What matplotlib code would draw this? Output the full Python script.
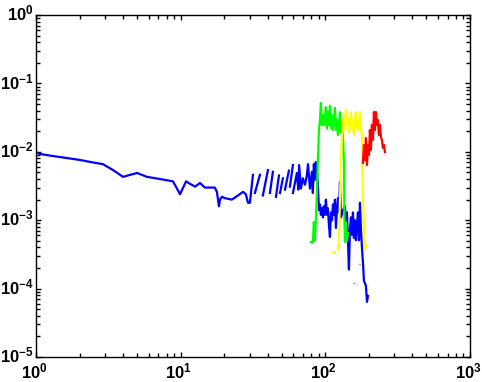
import numpy as np
import matplotlib
matplotlib.use("Agg")
import matplotlib.pyplot as plt
from matplotlib.ticker import LogLocator, NullFormatter
from matplotlib.transforms import ScaledTranslation

nan = np.nan

# ---- data ----
blue_x = [1.0, 1.066, 1.25, 1.64, 2.01, 2.56, 2.9, 3.41, 4.0, 4.47, 5.0, 5.85, 7.19, 8.85,
          9.9, 10.9, 11.6, 12.6, 13.6, 14.7, 15.9, 17.2, 17.8, 18.4, 18.7, 19.3, 20.2, 22.6,
          24.9, 27.0, 28.2, 29.2,
          30.1, 31.6, nan, 32.6, 35.3, nan, 37.0, 40.1, nan, 41.4, 43.4, nan, 45.6, 47.8, nan,
          48.6, 50.9, nan, 52.6, 56.0, nan, 56.9, 59.7, nan, 59.7, 63.6,
          65.0, 65.9, 67.8, 69.9, 72.3, 74.4, 75.9, 78.3, 80.8, 82.0, 83.3, 84.7, 86.0, 87.4,
          88.8, 90.3, 91.8, 93.2, 94.7, 96.3, 97.8, 99.3, 100.9, 102.6, 104.2, 105.9, 107.6,
          109.4, 111.1, 112.9, 114.7, 116.5, 118.4, 120.3, 122.2, 124.2, 126.2, 128.2, 132.4,
          136.6, 138.8, 141.0, 143.3, 145.6, 147.9, 150.3, 152.7, 155.2, 157.7, 160.2, 162.8,
          165.4, 168.1, 170.8, 173.5, 176.3, 179.1, 182.0, 184.9, 190.8, 194.0, 197.0]
blue_y = [0.0099, 0.0093, 0.0088, 0.0081, 0.0076, 0.0069, 0.0066, 0.0054, 0.0043, 0.0046,
          0.0049, 0.0043, 0.0040, 0.0037, 0.0024, 0.0037, 0.0034, 0.0031, 0.0035, 0.0030,
          0.0030, 0.0030, 0.0026, 0.0016, 0.0020, 0.0022, 0.0021, 0.0020, 0.0023, 0.0026,
          0.0024, 0.0018,
          0.0018, 0.0046, nan, 0.0025, 0.0046, nan, 0.0023, 0.0054, nan, 0.0025, 0.0051, nan,
          0.0022, 0.0045, nan, 0.0025, 0.0041, nan, 0.0028, 0.0053, nan, 0.0031, 0.0064, nan,
          0.0025, 0.0049,
          0.0028, 0.0064, 0.0029, 0.0041, 0.0033, 0.0044, 0.0066, 0.0029, 0.0051, 0.0025,
          0.0066, 0.0039, 0.0071, 0.0051, 0.0033, 0.0014, 0.0017, 0.0012, 0.0015, 0.0011,
          0.0016, 0.0012, 0.0020, 0.0012, 0.0015, 0.00085, 0.00057, 0.0013, 0.0010, 0.0017,
          0.0012, 0.0020, 0.00077, 0.0014, 0.0021, 0.0013, 0.0036, 0.0011, 0.0014, 0.0016,
          0.00085, 0.0013, 0.00051, 0.00019, 0.00072, 0.0011, 0.00061, 0.0013, 0.00055,
          0.0010, 0.00051, 0.00085, 0.0013, 0.00051, 0.0018, 0.00072, 0.0004, 0.00024,
          0.00013, 0.00011, 0.000064, 0.000078]

green_x = [79.5, 80.2, nan, 82.0, 83.3, 84.7, 86.0, 87.4, 88.8, 90.3, 91.8, 93.2, 94.7, 96.3,
           97.8, 99.3, 100.9, 102.6, 104.2, 105.9, 107.6, 109.4, 111.1, 112.9, 114.7, 116.5,
           118.4, 120.3, 122.2, 124.2, 126.2, 128.2, 130.3, 132.4, 134.5, 135.5, 136.6, 138.8,
           141.0, 143.3]
green_y = [0.00048, 0.00048, nan, 0.00048, 0.00094, 0.0005, 0.0010, 0.0025, 0.0076, 0.0208,
           0.0292, 0.0517, 0.0247, 0.0345, 0.0247, 0.0312, 0.045, 0.022, 0.038, 0.0247, 0.047,
           0.0223, 0.0345, 0.0208, 0.0292, 0.044, 0.0208, 0.0292, 0.0176, 0.0247, 0.038,
           0.0188, 0.0223, 0.0176, 0.0069, 0.0010, 0.00048, 0.00094, 0.0005, 0.00065]

yellow_x = [112.9, 114.0, nan, 115.5, 116.5, nan, 122.2, 124.2, 126.2, 128.2, 130.3, 132.4,
            134.5, 136.6, 138.8, 141.0, 143.3, 145.6, 147.9, 150.3, 152.7, 155.2, 157.7, 160.2,
            162.8, 165.4, 168.1, 170.8, 173.5, 176.3, 179.1, 182.0, 184.9, 187.9, 190.8]
yellow_y = [0.00034, 0.00034, nan, 0.00034, 0.00034, nan, 0.00037, 0.00051, 0.0020, 0.0076,
            0.0165, 0.0247, 0.0345, 0.0208, 0.041, 0.0247, 0.0312, 0.0188, 0.0292, 0.038,
            0.0208, 0.0292, 0.0176, 0.0312, 0.038, 0.0223, 0.0292, 0.0208, 0.038, 0.0223,
            0.0176, 0.0020, 0.00072, 0.00037, 0.00043]

red_x = [182.0, 184.9, 187.9, 190.8, 194.0, 197.0, 200.2, 203.3, 206.4, 209.8, 213.3, 216.7,
         220.2, 223.8, 227.4, 231.0, 234.7, 238.4, 242.3, 246.2, 250.1, 254.1, 258.2]
red_y = [0.0069, 0.0126, 0.0076, 0.0159, 0.0064, 0.0126, 0.0090, 0.0208, 0.0106, 0.0247,
         0.0149, 0.0382, 0.0208, 0.0382, 0.0247, 0.0292, 0.0176, 0.0247, 0.0165, 0.0149,
         0.0114, 0.0126, 0.0099]

red_dots_x = [170.8, 176.3, nan, 155.2, 162.8]
red_dots_y = [0.00023, 0.00023, nan, 0.00012, 0.00012]

xlim = (1, 1000)
ylim = (1e-5, 1)

# ---- styling ----
plt.rcParams['font.family'] = ['Liberation Sans', 'DejaVu Sans']
plt.rcParams['font.weight'] = 'bold'
plt.rcParams['mathtext.fontset'] = 'custom'
plt.rcParams['mathtext.rm'] = 'Liberation Sans:bold'
plt.rcParams['mathtext.it'] = 'Liberation Sans:bold'
plt.rcParams['mathtext.bf'] = 'Liberation Sans:bold'
plt.rcParams['mathtext.default'] = 'regular'

fig = plt.figure(figsize=(4.82, 3.82), dpi=100)
ax = fig.add_axes([36/482, 1 - 357/382, 434/482, 342/382])

lw = 1.6
ax.plot(blue_x, blue_y, color=(0, 0, 1), lw=lw)
ax.plot(green_x, green_y, color=(0, 1, 0), lw=lw)
ax.plot(yellow_x, yellow_y, color=(1, 1, 0), lw=lw)
ax.plot(red_x, red_y, color=(1, 0, 0), lw=lw)
ax.plot(red_dots_x, red_dots_y, color=(1, 0, 0), lw=0.8, ls=(0, (1, 1.5)))

ax.set_xscale('log')
ax.set_yscale('log')
ax.set_xlim(*xlim)
ax.set_ylim(*ylim)

ax.xaxis.set_major_locator(LogLocator(base=10, numticks=10))
ax.yaxis.set_major_locator(LogLocator(base=10, numticks=10))
ax.xaxis.set_minor_locator(LogLocator(base=10, subs=np.arange(2, 10), numticks=20))
ax.yaxis.set_minor_locator(LogLocator(base=10, subs=np.arange(2, 10), numticks=20))
ax.xaxis.set_minor_formatter(NullFormatter())
ax.yaxis.set_minor_formatter(NullFormatter())

ax.tick_params(which='both', direction='in', top=True, right=True, width=1, colors='black',
               labelsize=12)
ax.tick_params(which='major', length=3.5)
ax.tick_params(which='minor', length=3.0)
ax.tick_params(axis='x', pad=3.5)
ax.tick_params(axis='y', pad=1.5)
for s in ax.spines.values():
    s.set_linewidth(1)
    s.set_color('black')

fig.canvas.draw()
for lab in ax.get_xticklabels():
    lab.set_transform(lab.get_transform() + ScaledTranslation(-1.5/72, 0, fig.dpi_scale_trans))
for lab in ax.get_yticklabels():
    lab.set_transform(lab.get_transform() + ScaledTranslation(0, 2/72, fig.dpi_scale_trans))

fig.savefig('out.png', dpi=100)
